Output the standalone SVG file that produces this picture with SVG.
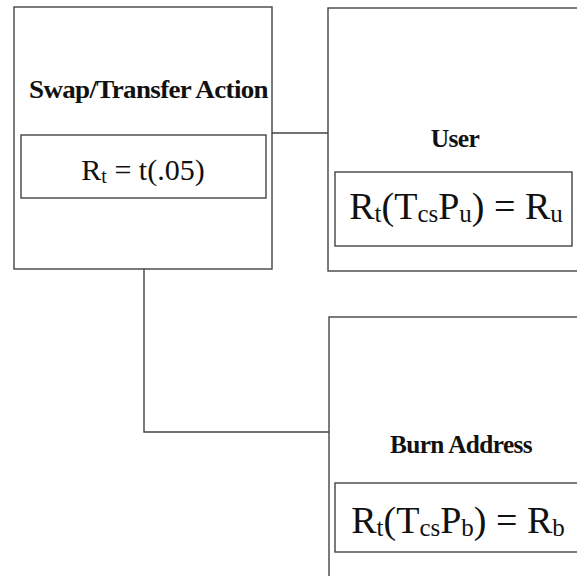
<svg xmlns="http://www.w3.org/2000/svg" width="577" height="576" viewBox="0 0 577 576">
<style>
.box{fill:none;stroke:#444;stroke-width:1.4}
.conn{fill:none;stroke:#444;stroke-width:1.4}
.title{font-family:"Liberation Serif","Times New Roman",serif;font-weight:bold;font-size:25.5px;fill:#111;text-anchor:middle;letter-spacing:-0.6px}
.eq{font-family:"Liberation Serif","Times New Roman",serif;font-size:38px;fill:#111;text-anchor:middle}
.eqs{font-family:"Liberation Serif","Times New Roman",serif;font-size:30px;fill:#111;text-anchor:middle}
.sub{font-size:25px}
.subs{font-size:20px}
</style>
<rect width="577" height="576" fill="#fff"/>
<g id="connectors">
<path class="conn" d="M272 133 H328"/>
<path class="conn" d="M144 269 V432 H329"/>
</g>
<g id="swap">
<rect class="box" x="14" y="7" width="258" height="262"/>
<text class="title" x="148.5" y="98" textLength="239" lengthAdjust="spacingAndGlyphs">Swap/Transfer Action</text>
<rect class="box" x="21" y="135" width="245" height="63"/>
<text class="eqs" x="143" y="180">R<tspan class="subs" dy="3">t</tspan><tspan dy="-3"> = t(.05)</tspan></text>
</g>
<g id="user">
<rect class="box" x="328" y="8" width="260" height="263"/>
<text class="title" x="455" y="147">User</text>
<rect class="box" x="335" y="172" width="237" height="74"/>
<text class="eq" x="456" y="219">R<tspan class="sub" dy="3">t</tspan><tspan dy="-3">(T</tspan><tspan class="sub" dy="3">cs</tspan><tspan dy="-3">P</tspan><tspan class="sub" dy="3">u</tspan><tspan dy="-3">) = R</tspan><tspan class="sub" dy="3">u</tspan></text>
</g>
<g id="burn">
<rect class="box" x="329" y="317" width="260" height="280"/>
<text class="title" x="461" y="453" textLength="142" lengthAdjust="spacingAndGlyphs">Burn Address</text>
<rect class="box" x="335" y="483" width="260" height="69"/>
<text class="eq" x="458" y="533">R<tspan class="sub" dy="3">t</tspan><tspan dy="-3">(T</tspan><tspan class="sub" dy="3">cs</tspan><tspan dy="-3">P</tspan><tspan class="sub" dy="3">b</tspan><tspan dy="-3">) = R</tspan><tspan class="sub" dy="3">b</tspan></text>
</g>
</svg>
